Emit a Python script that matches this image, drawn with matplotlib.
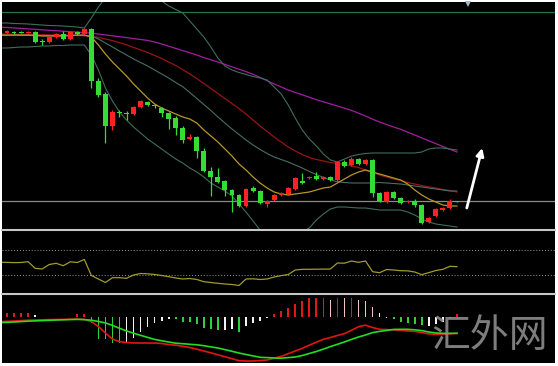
import numpy as np
import matplotlib
matplotlib.use("Agg")
import matplotlib.pyplot as plt
from matplotlib.lines import Line2D
from matplotlib.patches import Rectangle

# ---------------- data (price in points) ----------------
opens = [197,198,198,197,198,189,188,193,196,191,198,196,201,149,136,104,118,117,116,123,
         128,125,122,117,112,102,91,93,79,59,53,49,40,35,24,42,39,26,30,35,
         36,41,49,52,54,51,53,50,68,65,71,66,70,37,28,38,32,28,29,25,
         8,14,20,22,29]
closes = [199,197,197,198,188,188,193,196,191,198,196,201,149,135,104,118,117,116,123,129,
          125,124,117,111,102,90,93,79,59,53,48,40,35,24,41,39,27,29,35,37,
          42,52,47,53,51,53,50,68,64,71,66,70,37,29,38,32,27,29,25,7,
          12,21,22,29,28]
highs = [200,199,199,199,199,191,195,197,199,199,199,202,202,152,138,120,120,119,124,130,
         129,126,123,118,114,104,96,94,82,63,62,50,41,36,42,44,40,30,36,38,
         43,53,57,54,58,54,54,69,70,73,72,71,71,38,39,39,33,30,31,26,
         13,22,23,31,29]
lows = [196,196,197,197,187,185,187,192,190,190,195,195,142,133,87,100,113,110,115,122,
        124,122,113,101,95,87,90,72,58,34,47,34,18,23,23,38,26,23,29,34,
        35,40,46,51,50,50,49,49,63,64,65,65,33,28,27,31,26,27,23,6,
        7,13,19,21,28]

# moving averages / bands, bars -1 .. 64
ma_long = [203,202.5,202,201.6,201.1,200.7,200.2,199.7,199.3,198.8,198.3,197.9,197.4,196.9,196,195.1,
           194.2,193.3,192.4,191.4,190.5,189.6,188,186,183.8,181.6,179.4,177.2,175,172.4,170.2,168,
           165.6,163.2,160.8,158.4,155.7,152.5,149.3,146,143,140,137.6,135.2,132.8,130.3,128.2,126.1,
           124,121.8,119.6,116.8,114,110.8,108,105.5,103,100.7,97.8,95,92.1,89.2,86.4,83.5,80.7,78]
ma_mid = [196,196,195.7,195.6,195.5,195.4,195.3,195.2,195,194.9,194.7,194.5,194.2,193.8,192.5,191,
          189.4,187.3,185.2,182.6,180.2,177.5,174.5,171.5,168,164.5,160.3,156,151.5,146.5,141.5,136.5,
          131.5,126.5,121.5,116,110,104,98.5,93,88,83,79,75.5,72.5,70.5,69,67.5,
          66.5,65.5,64,62.5,60,57.4,55,53,51,49.5,47.5,46,44.5,43,42,40.5,39.5,38]
ma_fast = [195,195,195,195,195,194.5,194,194,194,194,194.5,195,195,193,185,176,
           168,161,154,146,139,132,126,122,119,116,113,111,107,100,94,88,
           81,74,66,60,53,47,42,38,36,35,36,37,38,40,42,43,
           47,51,55,58,60,58,56,54,52,50,46,40,35,31,28,25,24,24]
bb_upper = [207,207,206.5,206.3,206,205.5,205,204.5,204.3,204,203.5,203,202,212,223,232,
            239,244,247,248,246,241,235,229,224,220.5,217,209,201,193,183,172,
            164,160,157.5,155.5,153.5,152,150,143,136,125,112,100,91,84,76,70,
            68,71,74,75.5,76.5,77,77,77,77,77,77,77,78,81,82,82,81,80]
bb_middle = [194.5,194.5,194.5,194.5,194.5,194.5,194.5,194.5,194.5,194.5,194.5,194.5,194.5,194,191,187,
             183,179,175,171,167.5,164,160,156,152,147.5,143.3,137.5,131.5,125.5,119.5,113,
             107,101,95.5,90,85,80.5,76.5,73,70.5,68,65,62,58.5,55.5,52.5,50,
             48.3,47.5,47,47,47,47,47.5,47,46.5,46,45,44,43,42,41,40,39,39]
bb_lower = [182,182,182.5,183,183,183.5,184,184,184.5,184.5,185,185,185,175,160,142,
            129,118,110,103,97,91,86,81,76,71,67,62,58,53,47,43,
            39,34,26,18,9,0,-6,-10,-11,-10,-6,-2,2,10,16,21,
            23,23,22.5,22,22,21,20,20,20,20,18,15,11,8,6,5,4,3]
level_top = 218
level_mid = 29

# oscillator (0-100), bars -1 .. 64
osc = [50.3,50.2,49.8,50,51.3,40.7,39.6,46.8,48.7,44.9,51.1,50,54.8,29.2,23.6,18,
       25.7,25.7,24.7,30,32.4,31.9,30.8,29.2,27.3,25.2,23.6,24.4,22.8,19.3,18,16.7,
       15.6,14.8,13.2,23.6,23.9,22.8,23.6,26.8,29,30.8,38,39.1,39.1,39.3,39.4,39.6,
       49.2,48.9,52.4,50.3,52.4,35.3,33.7,38.8,38,36.9,36.6,34.8,30.5,33.8,37.2,39.1,43.9,43.3]
osc_levels = [70, 30]

# MACD, bars -1 .. 64
macd_red = [-0.47,-0.43,-0.4,-0.36,-0.32,-0.3,-0.28,-0.26,-0.25,-0.24,-0.22,-0.21,-0.25,-0.45,-0.95,-1.6,
            -2.2,-2.46,-2.55,-2.6,-2.6,-2.6,-2.6,-2.65,-2.75,-2.82,-2.92,-3.05,-3.22,-3.4,-3.58,-3.78,
            -3.97,-4.17,-4.37,-4.4,-4.4,-4.35,-4.3,-4.12,-3.94,-3.67,-3.4,-3.13,-2.82,-2.52,-2.23,-2.05,
            -1.85,-1.66,-1.33,-0.97,-0.82,-1.05,-1.23,-1.26,-1.29,-1.33,-1.39,-1.45,-1.55,-1.69,-1.73,-1.73,-1.69,-1.63]
macd_green = [-0.57,-0.53,-0.5,-0.46,-0.42,-0.39,-0.36,-0.33,-0.3,-0.28,-0.26,-0.24,-0.26,-0.32,-0.45,-0.59,
              -0.84,-1.13,-1.39,-1.62,-1.83,-2.04,-2.24,-2.38,-2.5,-2.62,-2.67,-2.73,-2.78,-2.87,-2.99,-3.1,
              -3.26,-3.43,-3.6,-3.75,-3.89,-4.03,-4.06,-4.1,-4.12,-4.06,-4.0,-3.85,-3.65,-3.45,-3.21,-2.96,
              -2.73,-2.5,-2.24,-2.0,-1.8,-1.56,-1.44,-1.34,-1.24,-1.23,-1.23,-1.28,-1.36,-1.5,-1.6,-1.63,-1.63,-1.63]
# histogram, bars 0 .. 64
hist = [0.37,0.37,0.43,0.37,0.2,0.05,0.05,0.05,0.05,0.05,0.3,0.3,-0.6,-2.2,-2.23,-2.6,
        -2.6,-2.6,-2.1,-1.5,-1.0,-0.6,-0.4,-0.2,-0.2,-0.5,-0.5,-0.7,-1.1,-1.2,-1.3,-1.3,
        -1.2,-1.5,-0.9,-0.6,-0.4,-0.1,0.3,0.6,0.9,1.3,1.6,1.9,1.9,1.9,1.7,1.9,
        1.9,1.9,1.7,1.6,1.0,0.4,-0.05,-0.2,-0.5,-0.6,-0.7,-0.8,-0.9,-0.7,-0.5,-0.1,0.3]
hist_kind = list("rrrrwwggg" "rrr" "ggggg" "wwwwwww" "ggggggg" "ww" "g" "wwww" "rrrrrrrr"
                 "prprppp" "ww" "ggggg" "wwww" "r")

assert len(opens) == len(closes) == len(highs) == len(lows) == 65
for arr in (ma_long, ma_mid, ma_fast, bb_upper, bb_middle, bb_lower, osc, macd_red, macd_green):
    assert len(arr) == 66, len(arr)
assert len(hist) == 65 and len(hist_kind) == 65, (len(hist), len(hist_kind))

# ---------------- figure ----------------
W, H = 558, 366
fig = plt.figure(figsize=(W / 100, H / 100), dpi=100, facecolor='white')


def fx(px):
    return px / W


def fy(py):
    return 1 - py / H


fig.add_artist(Rectangle((fx(2), fy(363)), fx(553), 361 / H, transform=fig.transFigure,
                         facecolor='black', edgecolor='none', zorder=0))

XL = (-0.711, 77.95)


def panel(top, bottom):
    ax = fig.add_axes([fx(2), fy(bottom), fx(553), (bottom - top) / H])
    ax.set_facecolor('none')
    for s in ax.spines.values():
        s.set_visible(False)
    ax.set_xticks([])
    ax.set_yticks([])
    ax.set_xlim(*XL)
    return ax


idx = np.arange(65)
xl = np.arange(-1, 65)

# main panel
ax = panel(2, 229)
ax.set_ylim(1, 228)
ax.axhline(level_top, color='#1e7a3c', lw=0.9)
ax.axhline(level_mid, color='#8a8a8a', lw=0.9)
ax.plot(xl, ma_long, color='#a01fa0', lw=0.9)
ax.plot(xl, ma_mid, color='#9a1414', lw=0.9)
ax.plot(xl, bb_upper, color='#3f6e5a', lw=0.8)
ax.plot(xl, bb_middle, color='#4a6e66', lw=0.8)
ax.plot(xl, bb_lower, color='#3f6e5a', lw=0.8)
ax.plot(xl, ma_fast, color='#b8962a', lw=0.9)

o = np.array(opens, float)
c = np.array(closes, float)
up = c >= o
cols = np.where(up, '#ff2222', '#33dd33')
ax.vlines(idx, lows, highs, colors=cols, lw=0.9, zorder=3)
body_lo = np.minimum(o, c)
body_h = np.maximum(np.abs(c - o), 1.0)
ax.bar(idx, body_h, bottom=body_lo, width=0.7, color=cols, linewidth=0, zorder=4)

ax.annotate('', xy=(67.6, 82), xytext=(65.4, 22),
            arrowprops=dict(arrowstyle='-|>', color='white', lw=2.0, mutation_scale=11,
                            shrinkA=0, shrinkB=0), zorder=6)

# oscillator panel
ax2 = panel(231, 293)
ax2.set_ylim(70 - (293 - 250) * 1.6, 70 + (250 - 231) * 1.6)
for lv in osc_levels:
    ax2.axhline(lv, color='#9a9a9a', lw=0.7, linestyle=(0, (1, 2)))
ax2.plot(xl, osc, color='#a39a2c', lw=0.9)

# MACD panel
ax3 = panel(296, 363)
ax3.set_ylim(-4.6, 2.1)
kc = {'r': '#e01818', 'g': '#2fcf3a', 'w': '#f2f2f2', 'p': '#f0c4c4'}
ax3.bar(idx, hist, width=0.24, color=[kc[k] for k in hist_kind], linewidth=0, zorder=2)
ax3.plot(xl, macd_red, color='#e01515', lw=1.2, zorder=3)
ax3.plot(xl, macd_green, color='#22dd22', lw=1.2, zorder=3)

# separators
for yy in (230, 294):
    fig.add_artist(Line2D([fx(2), fx(555)], [fy(yy), fy(yy)], color='#c8c8c8', lw=1.5,
                          transform=fig.transFigure, zorder=5))

# small marker at the top
fig.add_artist(Line2D([fx(468)], [fy(4)], marker='v', markersize=5, color='#a8b8c8',
                      markeredgewidth=0, linestyle='none', transform=fig.transFigure, zorder=6))

# watermark
fig.text(fx(490), fy(336), '汇外网', fontsize=28, color='#8c8c8c', alpha=0.9,
         ha='center', va='center', family=['Noto Sans CJK SC', 'DejaVu Sans'], zorder=10)

fig.savefig('out.png', dpi=100, facecolor='white')
